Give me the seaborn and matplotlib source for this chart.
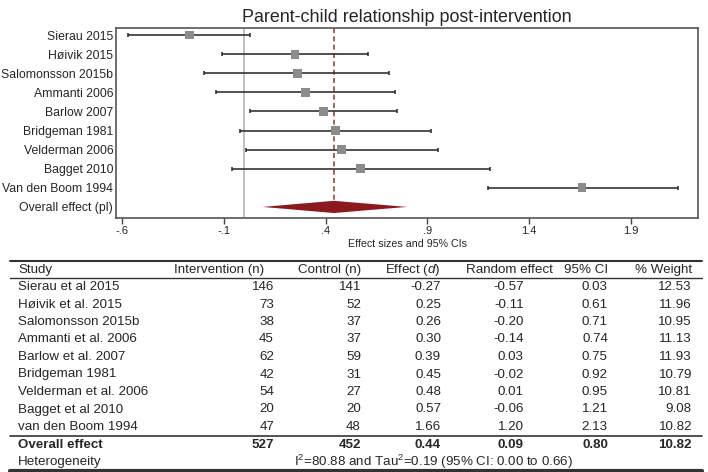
import numpy as np
import pandas as pd
import matplotlib.pyplot as plt
import seaborn as sns
from matplotlib.lines import Line2D

# %%
# forest plot data (read from the figure / table)
plot_labels = ["Sierau 2015", "Høivik 2015", "Salomonsson 2015b", "Ammanti 2006",
               "Barlow 2007", "Bridgeman 1981", "Velderman 2006", "Bagget 2010",
               "Van den Boom 1994"]
table_labels = ["Sierau et al 2015", "Høivik et al. 2015", "Salomonsson 2015b",
                "Ammanti et al. 2006", "Barlow et al. 2007", "Bridgeman 1981",
                "Velderman et al. 2006", "Bagget et al 2010", "van den Boom 1994"]
n_int = [146, 73, 38, 45, 62, 42, 54, 20, 47]
n_ctl = [141, 52, 37, 37, 59, 31, 27, 20, 48]
effect = [-0.27, 0.25, 0.26, 0.30, 0.39, 0.45, 0.48, 0.57, 1.66]
ci_low = [-0.57, -0.11, -0.20, -0.14, 0.03, -0.02, 0.01, -0.06, 1.20]
ci_high = [0.03, 0.61, 0.71, 0.74, 0.75, 0.92, 0.95, 1.21, 2.13]
weight = [12.53, 11.96, 10.95, 11.13, 11.93, 10.79, 10.81, 9.08, 10.82]

overall_n_int = 527
overall_n_ctl = 452
overall_effect = 0.44
overall_low = 0.09
overall_high = 0.80
overall_weight = 10.82
hetero_text = r"I$^2$=80.88 and Tau$^2$=0.19 (95% CI: 0.00 to 0.66)"

xticks = [-0.6, -0.1, 0.4, 0.9, 1.4, 1.9]
xtick_labels = ["-.6", "-.1", ".4", ".9", "1.4", "1.9"]

df = pd.DataFrame({"study": plot_labels, "effect": effect,
                   "low": ci_low, "high": ci_high})
df["row"] = np.arange(len(df))

# %%
sns.set_style("white")
plt.rcParams["font.family"] = ["Liberation Sans", "DejaVu Sans"]
plt.rcParams["mathtext.fontset"] = "custom"
plt.rcParams["mathtext.rm"] = "Liberation Sans"
plt.rcParams["mathtext.it"] = "Liberation Sans:italic"
plt.rcParams["mathtext.bf"] = "Liberation Sans:bold"

W, H = 708, 472
fig = plt.figure(figsize=(7.08, 4.72), dpi=100)
ax = fig.add_axes([116 / W, 1 - 218 / H, 582 / W, 190 / H])

# error bars + squares
ax.errorbar(df["effect"], df["row"],
            xerr=[df["effect"] - df["low"], df["high"] - df["effect"]],
            fmt="none", ecolor="#333333", elinewidth=1.2, capsize=1.5, capthick=1.2, zorder=2)
sns.scatterplot(data=df, x="effect", y="row", marker="s", s=40, color="#8c8c8c",
                edgecolor="none", ax=ax, zorder=3)

# overall diamond
n = len(df)
h = 0.32
ax.fill([overall_low, overall_effect, overall_high, overall_effect],
        [n, n - h, n, n + h], color="#8b1a1f", zorder=3, lw=0)

ymin, ymax = -0.37, 9.58
ax.axvline(0, color="#b5b5b5", lw=1.2, zorder=1)
ax.vlines(overall_effect, ymin, n - h, colors="#a0452e", linestyles=(0, (3, 2)), lw=1.2, zorder=1)

ax.set_ylim(ymax, ymin)
ax.set_xlim(-0.63, 2.23)
ax.set_yticks(list(range(n + 1)))
ax.set_yticklabels(plot_labels + ["Overall effect (pl)"], fontsize=8.8)
ax.set_xticks(xticks)
ax.set_xticklabels(xtick_labels, fontsize=8)
ax.tick_params(axis="y", length=0, pad=2)
ax.tick_params(axis="x", length=4, width=1, color="#444444", pad=1.5, direction="out", bottom=True)
ax.set_xlabel("Effect sizes and 95% CIs", fontsize=7.7, labelpad=2.5)
ax.set_ylabel("")
for sp in ax.spines.values():
    sp.set_color("#555555")
    sp.set_linewidth(1.2)
fig.text(407 / W, 1 - 17 / H, "Parent-child relationship post-intervention",
         ha="center", va="center", fontsize=12.9)

# %%
# table below the plot
def fy(py):
    return 1 - py / H

fs = 9.6
col_int = 274 / W
col_ctl = 361 / W
col_eff = 441 / W
col_lo = 524 / W
col_hi = 608 / W
col_w = 692 / W
col_study = 18 / W

hy = fy(270)
fig.text(col_study, hy, "Study", ha="left", va="center", fontsize=fs)
fig.text(264 / W, hy, "Intervention (n)", ha="right", va="center", fontsize=fs)
fig.text(col_ctl, hy, "Control (n)", ha="right", va="center", fontsize=fs)
fig.text(col_eff, hy, "Effect ($d$)", ha="right", va="center", fontsize=fs)
fig.text(553 / W, hy, "Random effect", ha="right", va="center", fontsize=fs)
fig.text(col_hi, hy, "95% CI", ha="right", va="center", fontsize=fs)
fig.text(col_w, hy, "% Weight", ha="right", va="center", fontsize=fs)

row_y = [287, 304.5, 322, 339.5, 357, 374.5, 392, 409.5, 427]
for i in range(n):
    y = fy(row_y[i])
    fig.text(col_study, y, table_labels[i], ha="left", va="center", fontsize=fs)
    fig.text(col_int, y, str(n_int[i]), ha="right", va="center", fontsize=fs)
    fig.text(col_ctl, y, str(n_ctl[i]), ha="right", va="center", fontsize=fs)
    fig.text(col_eff, y, f"{effect[i]:.2f}", ha="right", va="center", fontsize=fs)
    fig.text(col_lo, y, f"{ci_low[i]:.2f}", ha="right", va="center", fontsize=fs)
    fig.text(col_hi, y, f"{ci_high[i]:.2f}", ha="right", va="center", fontsize=fs)
    fig.text(col_w, y, f"{weight[i]:.2f}", ha="right", va="center", fontsize=fs)

oy = fy(445)
fig.text(col_study, oy, "Overall effect", ha="left", va="center", fontsize=fs, weight="bold")
fig.text(col_int, oy, str(overall_n_int), ha="right", va="center", fontsize=fs, weight="bold")
fig.text(col_ctl, oy, str(overall_n_ctl), ha="right", va="center", fontsize=fs, weight="bold")
fig.text(col_eff, oy, f"{overall_effect:.2f}", ha="right", va="center", fontsize=fs, weight="bold")
fig.text(col_lo, oy, f"{overall_low:.2f}", ha="right", va="center", fontsize=fs, weight="bold")
fig.text(col_hi, oy, f"{overall_high:.2f}", ha="right", va="center", fontsize=fs, weight="bold")
fig.text(col_w, oy, f"{overall_weight:.2f}", ha="right", va="center", fontsize=fs, weight="bold")

ty = fy(462)
fig.text(col_study, ty, "Heterogeneity", ha="left", va="center", fontsize=fs)
fig.text(433 / W, ty, hetero_text, ha="center", va="center", fontsize=fs)

for py, lw in [(261, 1.5), (277.5, 1.0), (435.5, 1.2), (470.5, 3.0)]:
    fig.add_artist(Line2D([10 / W, 702 / W], [fy(py), fy(py)], color="#333333", lw=lw))

fig.savefig("out.png", dpi=100)
